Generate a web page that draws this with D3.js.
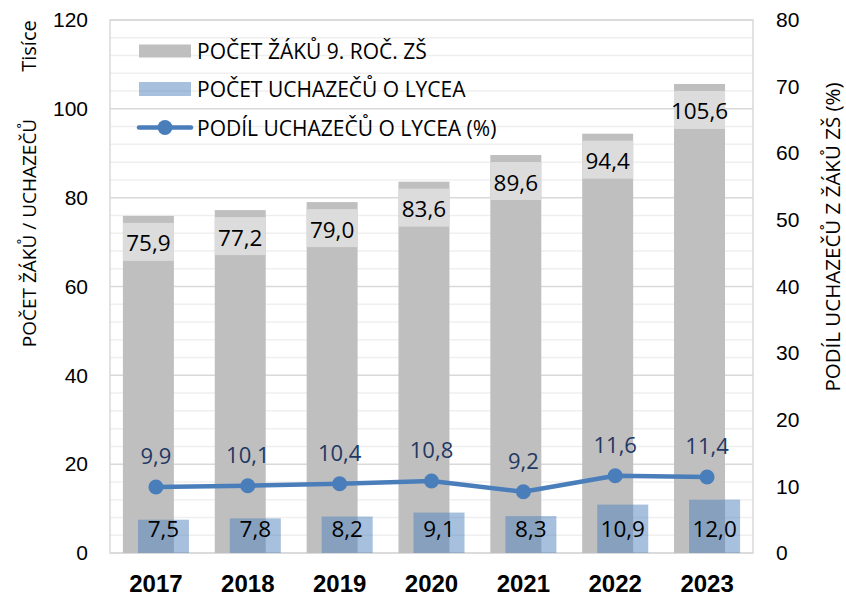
<!DOCTYPE html>
<html>
<head>
<meta charset="utf-8">
<script src="https://cdn.jsdelivr.net/npm/d3@7"></script>
<style>
  html, body { margin: 0; padding: 0; background: #fff; }
  svg { display: block; font-family: "Open Sans", "Noto Sans", sans-serif; }
</style>
</head>
<body>
<svg id="chart" width="846" height="600"></svg>
<script>
const years = ["2017", "2018", "2019", "2020", "2021", "2022", "2023"];
const pupils = [75.9, 77.2, 79.0, 83.6, 89.6, 94.4, 105.6];
const applicants = [7.5, 7.8, 8.2, 9.1, 8.3, 10.9, 12.0];
const share = [9.9, 10.1, 10.4, 10.8, 9.2, 11.6, 11.4];
const leftTicks = [0, 20, 40, 60, 80, 100, 120];
const rightTicks = [0, 10, 20, 30, 40, 50, 60, 70, 80];
const legendLabels = ["POČET ŽÁKŮ 9. ROČ. ZŠ", "POČET UCHAZEČŮ O LYCEA", "PODÍL UCHAZEČŮ O LYCEA (%)"];

const fmt = v => d3.format(".1f")(v).replace(".", ",");

const svg = d3.select("#chart");
const L = 110, R = 753, T = 20, B = 553;

const x = d3.scaleBand().domain(years).range([L, R]).padding(0);
const yL = d3.scaleLinear().domain([0, 120]).range([B, T]);
const yR = d3.scaleLinear().domain([0, 80]).range([B, T]);

const step = x.step();
const barW = step * 0.555;
const off = step * 0.082;
const cx = d => x(d) + step / 2;

// gridlines
const minor = d3.range(0, 121, 4).filter(v => v % 20 !== 0);
svg.append("g").selectAll("line").data(minor).join("line")
  .attr("x1", L).attr("x2", R).attr("y1", d => yL(d)).attr("y2", d => yL(d))
  .attr("stroke", "#efefef").attr("stroke-width", 1.5);
svg.append("g").selectAll("line").data(leftTicks).join("line")
  .attr("x1", L).attr("x2", R).attr("y1", d => yL(d)).attr("y2", d => yL(d))
  .attr("stroke", "#d9d9d9").attr("stroke-width", 1.5);
svg.append("rect").attr("x", L).attr("y", T).attr("width", R - L).attr("height", B - T)
  .attr("fill", "none").attr("stroke", "#d9d9d9").attr("stroke-width", 1.5);

// grey bars
svg.append("g").selectAll("rect").data(years).join("rect")
  .attr("x", (d) => cx(d) - off - barW / 2)
  .attr("width", barW)
  .attr("y", (d, i) => yL(pupils[i]))
  .attr("height", (d, i) => B - yL(pupils[i]))
  .attr("fill", "#bfbfbf");

// blue bars
svg.append("g").selectAll("rect").data(years).join("rect")
  .attr("x", (d) => cx(d) + off - barW / 2)
  .attr("width", barW)
  .attr("y", (d, i) => yL(applicants[i]))
  .attr("height", (d, i) => B - yL(applicants[i]))
  .attr("fill", "#4f81bd").attr("fill-opacity", 0.5);

// grey bar labels
const lab1 = svg.append("g");
lab1.selectAll("rect").data(years).join("rect")
  .attr("x", (d) => cx(d) - off - barW / 2)
  .attr("width", barW)
  .attr("y", (d, i) => yL(pupils[i]) + 7)
  .attr("height", 38)
  .attr("fill", "#dcdcdc");
lab1.selectAll("text").data(years).join("text")
  .attr("x", (d) => cx(d) - off)
  .attr("y", (d, i) => yL(pupils[i]) + 27)
  .attr("text-anchor", "middle").attr("dominant-baseline", "central")
  .attr("font-size", 22.5).attr("fill", "#000")
  .text((d, i) => fmt(pupils[i]));

// blue bar labels
svg.append("g").selectAll("text").data(years).join("text")
  .attr("x", (d) => cx(d) + off)
  .attr("y", B - 25)
  .attr("text-anchor", "middle").attr("dominant-baseline", "central")
  .attr("font-size", 22.5).attr("fill", "#000")
  .text((d, i) => fmt(applicants[i]));

// line
const line = d3.line().x((d, i) => cx(years[i])).y(d => yR(d));
svg.append("path").datum(share).attr("d", line)
  .attr("fill", "none").attr("stroke", "#4a7ebb").attr("stroke-width", 4.5)
  .attr("stroke-linejoin", "round");
svg.append("g").selectAll("circle").data(share).join("circle")
  .attr("cx", (d, i) => cx(years[i])).attr("cy", d => yR(d)).attr("r", 7.5)
  .attr("fill", "#4a7ebb");
svg.append("g").selectAll("text").data(share).join("text")
  .attr("x", (d, i) => cx(years[i])).attr("y", d => yR(d) - 32)
  .attr("text-anchor", "middle").attr("dominant-baseline", "central")
  .attr("font-size", 22).attr("fill", "#1f3864")
  .text(d => fmt(d));

// axes
const axL = svg.append("g").attr("transform", `translate(88,0)`)
  .call(d3.axisLeft(yL).tickValues(leftTicks).tickSize(0).tickPadding(0).tickFormat(d3.format("d")));
axL.select(".domain").remove();
axL.selectAll("text").attr("font-size", 21).attr("fill", "#000").attr("font-family", null);

const axR = svg.append("g").attr("transform", `translate(776,0)`)
  .call(d3.axisRight(yR).tickValues(rightTicks).tickSize(0).tickPadding(0).tickFormat(d3.format("d")));
axR.select(".domain").remove();
axR.selectAll("text").attr("font-size", 21).attr("fill", "#000").attr("font-family", null);

const axB = svg.append("g").attr("transform", `translate(0,${B})`)
  .call(d3.axisBottom(x).tickSize(0).tickPadding(22));
axB.select(".domain").remove();
axB.selectAll("text").attr("font-size", 24).attr("font-weight", "bold").attr("fill", "#000").attr("font-family", null);

// axis titles
svg.append("text").attr("transform", "translate(28,46) rotate(-90)")
  .attr("text-anchor", "middle").attr("dominant-baseline", "central")
  .attr("font-size", 20).attr("fill", "#000").text("Tisíce");
svg.append("text").attr("transform", "translate(29,233) rotate(-90)")
  .attr("text-anchor", "middle").attr("dominant-baseline", "central")
  .attr("font-size", 19).attr("fill", "#000").text("POČET ŽÁKŮ / UCHAZEČŮ");
svg.append("text").attr("transform", "translate(832,237) rotate(-90)")
  .attr("text-anchor", "middle").attr("dominant-baseline", "central")
  .attr("font-size", 20.5).attr("fill", "#000").text("PODÍL UCHAZEČŮ Z ŽÁKŮ ZŠ (%)");

// legend
const lg = svg.append("g");
const rows = [51, 89, 127.5];
lg.append("rect").attr("x", 139).attr("y", rows[0] - 6.5).attr("width", 52).attr("height", 13).attr("fill", "#bfbfbf");
lg.append("rect").attr("x", 139).attr("y", rows[1] - 7).attr("width", 52).attr("height", 14).attr("fill", "#4f81bd").attr("fill-opacity", 0.5);
lg.append("line").attr("x1", 139).attr("x2", 191).attr("y1", rows[2]).attr("y2", rows[2])
  .attr("stroke", "#4a7ebb").attr("stroke-width", 4.5).attr("stroke-linecap", "round");
lg.append("circle").attr("cx", 165).attr("cy", rows[2]).attr("r", 7.5).attr("fill", "#4a7ebb");
lg.selectAll("text").data(legendLabels).join("text")
  .attr("x", 197).attr("y", (d, i) => rows[i])
  .attr("dominant-baseline", "central").attr("font-size", 21).attr("fill", "#000")
  .text(d => d);
</script>
</body>
</html>
